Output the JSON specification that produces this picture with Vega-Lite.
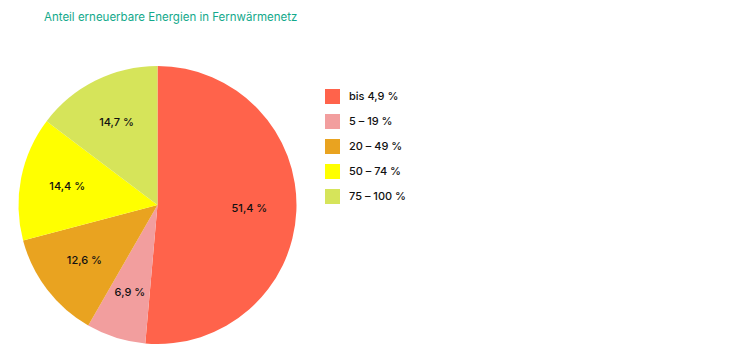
{
  "$schema": "https://vega.github.io/schema/vega-lite/v6.json",
  "width": 315,
  "height": 278,
  "autosize": {"type": "none"},
  "padding": {"top": 66, "left": 0, "right": 416, "bottom": 15},
  "background": "white",
  "title": {
    "text": "Anteil erneuerbare Energien in Fernwärmenetz",
    "anchor": "start",
    "dx": 44,
    "offset": 43,
    "font": "Inter",
    "fontSize": 11.5,
    "fontWeight": "normal",
    "color": "#13A98B"
  },
  "data": {
    "values": [
      {"kategorie": "bis 4,9 %", "anteil": 51.4, "label": "51,4 %", "rang": 1},
      {"kategorie": "5 – 19 %", "anteil": 6.9, "label": "6,9 %", "rang": 2},
      {"kategorie": "20 – 49 %", "anteil": 12.6, "label": "12,6 %", "rang": 3},
      {"kategorie": "50 – 74 %", "anteil": 14.4, "label": "14,4 %", "rang": 4},
      {"kategorie": "75 – 100 %", "anteil": 14.7, "label": "14,7 %", "rang": 5}
    ]
  },
  "encoding": {
    "theta": {"field": "anteil", "type": "quantitative", "stack": true},
    "order": {"field": "rang", "type": "quantitative"},
    "color": {
      "field": "kategorie",
      "type": "nominal",
      "scale": {
        "domain": ["bis 4,9 %", "5 – 19 %", "20 – 49 %", "50 – 74 %", "75 – 100 %"],
        "range": ["#FF634B", "#F29E9E", "#E9A320", "#FFFF00", "#D6E45A"]
      },
      "legend": {
        "title": null,
        "orient": "none",
        "legendX": 325,
        "legendY": 23,
        "symbolType": "square",
        "symbolSize": 225,
        "symbolStrokeWidth": 0,
        "symbolOpacity": 1,
        "rowPadding": 10,
        "labelFont": "Inter",
        "labelFontSize": 11,
        "labelFontWeight": 500,
        "labelColor": "#111111",
        "labelOffset": 9
      }
    }
  },
  "layer": [
    {"mark": {"type": "arc", "outerRadius": 139, "stroke": null}},
    {
      "mark": {"type": "text", "radius": 92, "font": "Inter", "fontSize": 11, "fontWeight": 500, "color": "#111111"},
      "encoding": {"text": {"field": "label"}, "color": {"value": "#111111"}}
    }
  ]
}
